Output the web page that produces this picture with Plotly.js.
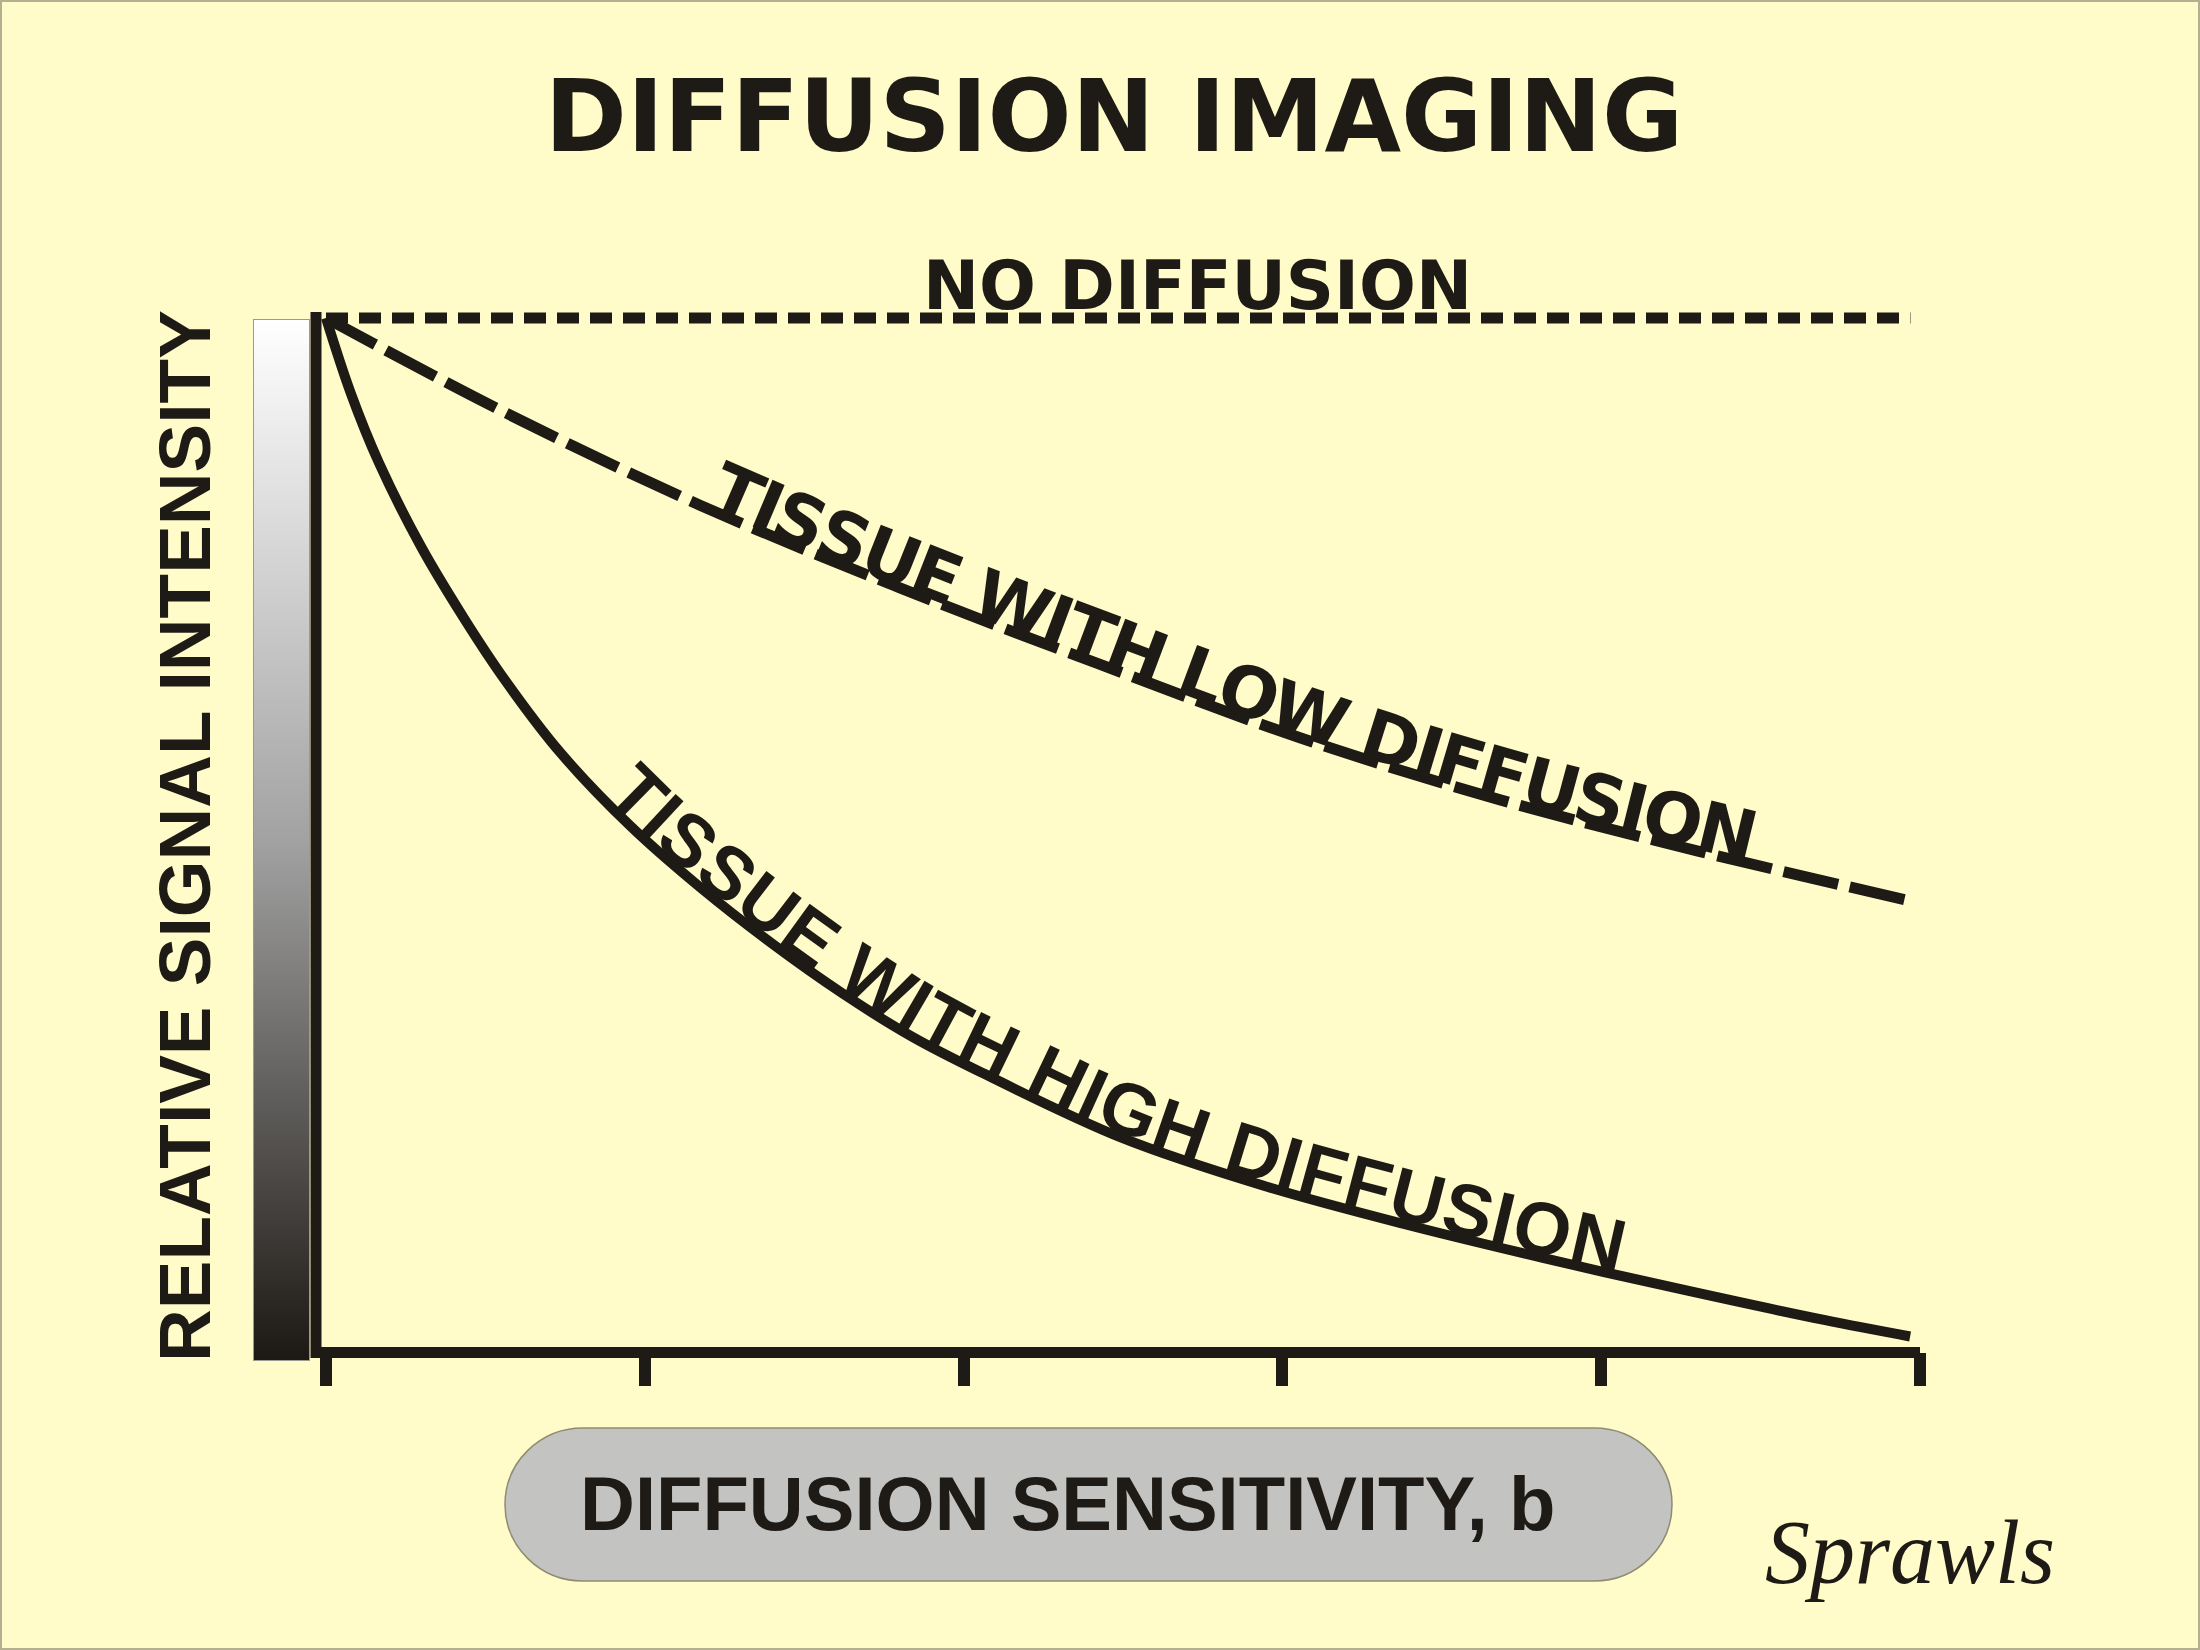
<!DOCTYPE html>
<html><head><meta charset="utf-8">
<script src="https://cdn.plot.ly/plotly-3.0.1.min.js"></script>
<style>html,body{margin:0;padding:0;background:#fffcc9;} #chart{width:2200px;height:1650px;}</style>
</head><body><div id="chart"></div>
<script>
// ---------------- data ----------------
const bTicks = [0, 1, 2, 3, 4, 5];
const noDiffB = [0, 4.97];
const noDiffS = [1, 1];
const lowB = [0, 0.546, 1.173, 1.800, 2.428, 3.055, 3.683, 4.310, 4.959];
const lowS = [1.0, 0.911, 0.819, 0.739, 0.665, 0.594, 0.534, 0.484, 0.437];
const highB = [0, 0.078, 0.166, 0.298, 0.430, 0.561, 0.737, 0.957, 1.179, 1.399, 1.619, 1.838, 2.058, 2.497, 2.939, 3.378, 3.817, 4.260, 4.699, 4.969];
const highS = [1.0, 0.927, 0.860, 0.779, 0.711, 0.650, 0.579, 0.508, 0.448, 0.395, 0.347, 0.305, 0.270, 0.207, 0.161, 0.124, 0.091, 0.060, 0.031, 0.015];

const titleText = 'DIFFUSION IMAGING';
const xTitle = 'DIFFUSION SENSITIVITY, b';
const yTitle = 'RELATIVE SIGNAL INTENSITY';
const noDiffLabel = 'NO DIFFUSION';
const lowLabel = 'TISSUE WITH LOW DIFFUSION';
const highLabel = 'TISSUE WITH HIGH DIFFUSION';
const signature = 'Sprawls';

// ---------------- geometry / style ----------------
const FW = 2200, FH = 1650;
const M = {l: 316, r: 280, t: 300, b: 298};
const PW = FW - M.l - M.r;
const PH = FH - M.t - M.b;
const XR = [-0.03137, 5.0];
const YR = [0, 1.01741];
const INK = '#1e1a16';
const BG = '#fffcc9';

function dx2px(x){ return M.l + (x - XR[0]) / (XR[1] - XR[0]) * PW; }
function dy2py(y){ return M.t + (YR[1] - y) / (YR[1] - YR[0]) * PH; }
function px2dx(px){ return XR[0] + (px - M.l) / PW * (XR[1] - XR[0]); }
function py2dy(py){ return YR[1] - (py - M.t) / PH * (YR[1] - YR[0]); }
function xp(px){ return (px - M.l) / PW; }
function yp(py){ return (M.t + PH - py) / PH; }

// ---------------- text along a curve ----------------
const cnv = document.createElement('canvas');
const ctx = cnv.getContext('2d');

function densify(xs, ys){
  const P = xs.map((x, i) => [dx2px(x), dy2py(ys[i])]);
  const out = [];
  for (let i = 0; i < P.length - 1; i++){
    const p0 = P[Math.max(0, i - 1)], p1 = P[i], p2 = P[i + 1], p3 = P[Math.min(P.length - 1, i + 2)];
    for (let k = 0; k < 24; k++){
      const t = k / 24, t2 = t * t, t3 = t2 * t;
      const f = j => 0.5 * (2 * p1[j] + (-p0[j] + p2[j]) * t + (2 * p0[j] - 5 * p1[j] + 4 * p2[j] - p3[j]) * t2 + (-p0[j] + 3 * p1[j] - 3 * p2[j] + p3[j]) * t3);
      out.push([f(0), f(1)]);
    }
  }
  out.push(P[P.length - 1]);
  const cum = [0];
  for (let i = 1; i < out.length; i++) cum.push(cum[i - 1] + Math.hypot(out[i][0] - out[i - 1][0], out[i][1] - out[i - 1][1]));
  return {pts: out, cum: cum};
}
function posAt(path, s){
  const {pts, cum} = path;
  s = Math.max(0, Math.min(cum[cum.length - 1], s));
  let i = 1;
  while (i < cum.length - 1 && cum[i] < s) i++;
  const seg = cum[i] - cum[i - 1] || 1;
  const t = (s - cum[i - 1]) / seg;
  return [pts[i - 1][0] + t * (pts[i][0] - pts[i - 1][0]), pts[i - 1][1] + t * (pts[i][1] - pts[i - 1][1])];
}
function arcAtPx(path, px){
  const {pts, cum} = path;
  for (let i = 1; i < pts.length; i++){
    if (pts[i][0] >= px){
      const t = (px - pts[i - 1][0]) / ((pts[i][0] - pts[i - 1][0]) || 1);
      return cum[i - 1] + t * (cum[i] - cum[i - 1]);
    }
  }
  return cum[cum.length - 1];
}
function textOnCurve(label, xs, ys, startB, endB, font, offset){
  const path = densify(xs, ys);
  const s0 = arcAtPx(path, dx2px(startB)), s1 = arcAtPx(path, dx2px(endB));
  ctx.font = (font.style || 'normal') + ' ' + font.weight + ' ' + font.size + 'px "' + font.family + '"';
  const chars = label.split('');
  const w = chars.map(c => ctx.measureText(c).width);
  const total = w.reduce((a, b) => a + b, 0);
  const extra = (s1 - s0 - total) / (chars.length - 1);
  const anns = [];
  let acc = s0;
  chars.forEach((c, i) => {
    const s = acc + w[i] / 2;
    acc += w[i] + extra;
    if (c === ' ') return;
    const a = posAt(path, s - 10), b = posAt(path, s + 10), p = posAt(path, s);
    const ang = Math.atan2(b[1] - a[1], b[0] - a[0]);
    const cx = p[0] + Math.sin(ang) * offset, cy = p[1] - Math.cos(ang) * offset;
    anns.push({x: px2dx(cx), y: py2dy(cy), xref: 'x', yref: 'y', text: c, showarrow: false,
      textangle: ang * 180 / Math.PI, xanchor: 'center', yanchor: 'middle',
      font: {family: font.family, size: font.size, weight: font.weight, color: INK}});
  });
  return anns;
}

// ---------------- traces ----------------
const traces = [
  {x: noDiffB, y: noDiffS, mode: 'lines', name: 'No diffusion', line: {color: INK, width: 11, dash: '22px,11px'}},
  {x: lowB, y: lowS, mode: 'lines', name: 'Low diffusion', line: {color: INK, width: 11, dash: '56px,12px', shape: 'spline', smoothing: 1}},
  {x: highB, y: highS, mode: 'lines', name: 'High diffusion', line: {color: INK, width: 10, shape: 'spline', smoothing: 1}}
];

// ---------------- decorations ----------------
const gradSvg = '<svg xmlns="http://www.w3.org/2000/svg" width="57" height="1042" viewBox="0 0 57 1042" preserveAspectRatio="none">' +
  '<defs><linearGradient id="g" x1="0" y1="0" x2="0" y2="1">' +
  '<stop offset="0" stop-color="#ffffff"/><stop offset="0.5" stop-color="#a2a2a2"/><stop offset="1" stop-color="#1c1814"/>' +
  '</linearGradient></defs><rect x="0.5" y="0.5" width="56" height="1041" fill="url(#g)" stroke="#9a9a90" stroke-width="1"/></svg>';

function pillPath(x0, y0, x1, y1, rx){
  const ry = (y1 - y0) / 2, k = 0.5523, cy = (y0 + y1) / 2;
  const P = (px, py) => xp(px).toFixed(5) + ',' + yp(py).toFixed(5);
  return 'M' + P(x0 + rx, y0) + ' L' + P(x1 - rx, y0) +
    ' C' + P(x1 - rx + k * rx, y0) + ' ' + P(x1, cy - k * ry) + ' ' + P(x1, cy) +
    ' C' + P(x1, cy + k * ry) + ' ' + P(x1 - rx + k * rx, y1) + ' ' + P(x1 - rx, y1) +
    ' L' + P(x0 + rx, y1) +
    ' C' + P(x0 + rx - k * rx, y1) + ' ' + P(x0, cy + k * ry) + ' ' + P(x0, cy) +
    ' C' + P(x0, cy - k * ry) + ' ' + P(x0 + rx - k * rx, y0) + ' ' + P(x0 + rx, y0) + ' Z';
}

const shapes = [
  {type: 'rect', xref: 'paper', yref: 'paper', x0: xp(1), x1: xp(2199), y0: yp(1649), y1: yp(1), line: {color: '#b2b08e', width: 2}, fillcolor: 'rgba(0,0,0,0)'},
  {type: 'path', xref: 'paper', yref: 'paper', path: pillPath(505, 1428, 1672, 1581, 78), fillcolor: '#c3c3c1', line: {color: '#8e8c72', width: 1.5}},
  {type: 'line', xref: 'paper', yref: 'paper', x0: xp(316), x1: xp(316), y0: yp(1358), y1: yp(312), line: {color: INK, width: 11}},
  {type: 'line', xref: 'paper', yref: 'paper', x0: xp(311), x1: xp(1920), y0: yp(1352.5), y1: yp(1352.5), line: {color: INK, width: 11}}
];

const annotations = [
  {xref: 'paper', yref: 'paper', x: xp(1197), y: yp(286), text: noDiffLabel, showarrow: false, xanchor: 'center', yanchor: 'middle',
   font: {family: 'DejaVu Sans', size: 67, weight: 700, color: INK}},
  {xref: 'paper', yref: 'paper', x: xp(184), y: yp(836), text: yTitle, showarrow: false, textangle: -90, xanchor: 'center', yanchor: 'middle',
   font: {family: 'Liberation Sans', size: 73, weight: 700, color: INK}},
  {xref: 'paper', yref: 'paper', x: xp(1067), y: yp(1503), text: xTitle, showarrow: false, xanchor: 'center', yanchor: 'middle',
   font: {family: 'Liberation Sans', size: 76, weight: 700, color: INK}},
  {xref: 'paper', yref: 'paper', x: xp(1910), y: yp(1552), text: signature, showarrow: false, xanchor: 'center', yanchor: 'middle',
   font: {family: 'Liberation Serif', size: 90, style: 'italic', color: INK}}
].concat(
  textOnCurve(lowLabel, lowB, lowS, px2dx(705), px2dx(1750), {family: 'DejaVu Sans', size: 70, weight: 700}, 25),
  textOnCurve(highLabel, highB, highS, px2dx(602), px2dx(1618), {family: 'Liberation Sans', size: 74, weight: 700}, 29)
);

const layout = {
  width: FW, height: FH,
  margin: M,
  paper_bgcolor: BG, plot_bgcolor: 'rgba(0,0,0,0)',
  showlegend: false, hovermode: false,
  title: {text: titleText, xref: 'container', yref: 'container', x: 1114 / FW, y: 1 - 116 / FH, xanchor: 'center', yanchor: 'middle',
          font: {family: 'DejaVu Sans', size: 99, weight: 700, color: INK}},
  xaxis: {range: XR, showgrid: false, zeroline: false, showline: false, ticks: 'outside', ticklen: 33, tickwidth: 12, tickcolor: INK,
          tickmode: 'array', tickvals: bTicks, showticklabels: false, fixedrange: true},
  yaxis: {range: YR, showgrid: false, zeroline: false, showline: false, ticks: '', showticklabels: false, fixedrange: true},
  images: [{source: 'data:image/svg+xml;charset=utf-8,' + encodeURIComponent(gradSvg), xref: 'paper', yref: 'paper',
            x: xp(253), y: yp(319), sizex: 57 / PW, sizey: 1042 / PH, xanchor: 'left', yanchor: 'top', sizing: 'stretch', layer: 'above'}],
  shapes: shapes,
  annotations: annotations
};

Plotly.newPlot('chart', traces, layout, {displayModeBar: false, staticPlot: true});
</script>
</body></html>
